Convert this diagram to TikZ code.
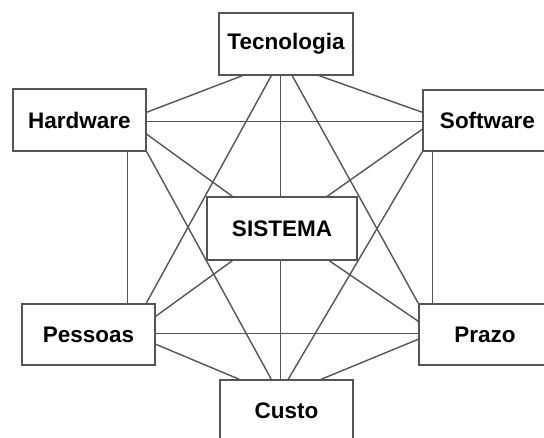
\documentclass[tikz,border=0pt]{standalone}
\usepackage{fontspec}
\setmainfont{Liberation Sans}
\usetikzlibrary{calc}
\definecolor{edgegray}{RGB}{85,85,85}
\tikzset{
  box/.style={draw=edgegray, line width=1.5pt, fill=white, rectangle, inner sep=0pt,
    font=\fontsize{22.5}{24}\selectfont\bfseries},
  link/.style={draw=edgegray, line width=1.4pt}
}
\begin{document}
\begin{tikzpicture}[x=1pt,y=-1pt]
\useasboundingbox (0,0) rectangle (544,437);
\fill[white] (0,0) rectangle (544,437);
\clip (0,0) rectangle (544,437);
% nodes
\node[box, minimum width=134pt, minimum height=62pt] (tec) at (286,44) {Tecnologia};
\node[box, minimum width=133pt, minimum height=62pt] (hard) at (79.5,120) {Hardware};
\node[box, minimum width=129pt, minimum height=61pt] (soft) at (487.5,120.5) {Software};
\node[box, minimum width=150pt, minimum height=63pt] (sis) at (282,228.5) {SISTEMA};
\node[box, minimum width=133pt, minimum height=61pt] (pess) at (88.5,334.5) {Pessoas};
\node[box, minimum width=132pt, minimum height=61pt] (prazo) at (485,334.5) {Prazo};
\node[box, minimum width=133pt, minimum height=62pt] (custo) at (286.5,411) {Custo};
% connectors
\draw[link] ($(tec.south west)+(24,0)$) -- ($(hard.north east)+(0,24)$);
\draw[link] ($(tec.south west)+(101,0)$) -- ($(soft.north west)+(0,23)$);
\draw[link] ($(tec.south west)+(53,0)$) -- ($(pess.north west)+(125,0)$);
\draw[link] ($(tec.south west)+(62,0)$) -- ($(sis.north west)+(74,0)$);
\draw[link] ($(sis.south west)+(74,0)$) -- ($(custo.north west)+(61,0)$);
\draw[link] ($(tec.south west)+(74,0)$) -- (prazo.north west);
\draw[link] ($(hard.north east)+(0,33)$) -- ($(soft.north west)+(0,32)$);
\draw[link] ($(hard.north east)+(0,46)$) -- ($(sis.north west)+(26,0)$);
\draw[link] (hard.south east) -- ($(custo.north west)+(52,0)$);
\draw[link] ($(hard.south west)+(115,0)$) -- ($(pess.north west)+(106,0)$);
\draw[link] ($(soft.north west)+(0,40)$) -- ($(sis.north west)+(121,0)$);
\draw[link] (soft.south west) -- ($(custo.north west)+(69,0)$);
\draw[link] ($(soft.south west)+(10,0)$) -- ($(prazo.north west)+(14,0)$);
\draw[link] ($(pess.north east)+(0,13)$) -- ($(sis.south west)+(26,0)$);
\draw[link] ($(pess.north east)+(0,30)$) -- ($(prazo.north west)+(0,30)$);
\draw[link] ($(pess.north east)+(0,41)$) -- ($(custo.north west)+(20,0)$);
\draw[link] ($(prazo.north west)+(0,18)$) -- ($(sis.south west)+(123,0)$);
\draw[link] ($(prazo.north west)+(0,36)$) -- ($(custo.north west)+(102,0)$);
\end{tikzpicture}
\end{document}
